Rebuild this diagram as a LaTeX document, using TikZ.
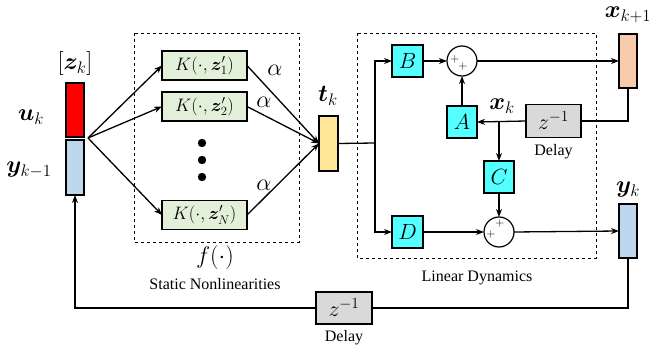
\RequirePackage{fix-cm}
\documentclass[tikz,border=0pt]{standalone}
\usepackage{amsmath}
\usepackage{bm}
\usepackage{fontspec}
\setmainfont{Liberation Serif}
\usetikzlibrary{arrows.meta}

\definecolor{vecred}{HTML}{FF0000}
\definecolor{veclblue}{HTML}{BDD7EE}
\definecolor{kgreen}{HTML}{E2F0D9}
\definecolor{tyellow}{HTML}{FFE699}
\definecolor{xpeach}{HTML}{F8CBAD}
\definecolor{mcyan}{HTML}{55FFFF}
\definecolor{dgrey}{HTML}{D9D9D9}

\tikzset{
  every node/.style={inner sep=0pt, outer sep=0pt},
  vecbox/.style={draw, line width=1.2pt, minimum width=18pt, minimum height=54pt},
  kbox/.style={draw, line width=1.2pt, fill=kgreen, minimum width=85pt, minimum height=29pt,
    font=\fontsize{18}{21}\selectfont},
  matbox/.style={draw, line width=1.2pt, fill=mcyan, minimum width=31pt, minimum height=32pt,
    font=\fontsize{22}{24}\selectfont},
  delaybox/.style={draw, line width=1.2pt, fill=dgrey, minimum width=55pt, minimum height=33pt,
    font=\fontsize{22}{24}\selectfont},
  sumnode/.style={draw, circle, line width=1.2pt, fill=white, minimum size=30pt},
  veclabel/.style={font=\fontsize{24}{26}\selectfont},
  caption/.style={font=\fontsize{16}{18}\selectfont},
  plus/.style={font=\fontsize{12}{14}\selectfont},
  region/.style={draw, dashed, line width=0.8pt},
  conn/.style={line width=1.3pt},
  arr/.style={conn, -{Stealth[length=8pt,width=6pt]}},
}

\begin{document}
\begin{tikzpicture}[x=1pt, y=-1pt]
\useasboundingbox (0,0) rectangle (662,350);

% dashed regions
\draw[region] (134,33) rectangle (299,242);
\draw[region] (357,33) rectangle (596,258);

% stacked input vector
\node[vecbox, fill=vecred] (uk) at (75,110) {};
\node[vecbox, fill=veclblue, minimum height=55pt] (yk1) at (75,167.5) {};
\node[veclabel] (zklab) at (75,64) {$[\bm{z}_k]$};
\node[veclabel] (uklab) at (31,117) {$\bm{u}_k$};
\node[veclabel] (yk1lab) at (29,170) {$\bm{y}_{k-1}$};
\coordinate (src) at (88,138);

% kernel evaluations
\node[kbox] (K1) at (204.5,65.5) {$K(\cdot,\bm{z}'_1)$};
\node[kbox] (K2) at (204.5,106.5) {$K(\cdot,\bm{z}'_2)$};
\node[kbox] (KN) at (204.5,215) {$K(\cdot,\bm{z}'_N)$};
\fill (202,143) circle (4.2pt) (202,160) circle (4.2pt) (202,177) circle (4.2pt);
\node[veclabel] (a1) at (275,70) {$\alpha$};
\node[veclabel] (a2) at (264,102) {$\alpha$};
\node[veclabel] (aN) at (264,185) {$\alpha$};
\node[veclabel] (flab) at (215,258) {$f(\cdot)$};
\node[caption] (snl) at (215,284) {Static Nonlinearities};

% feature vector
\node[vecbox, fill=tyellow, minimum width=19pt, minimum height=55pt] (tk) at (328.5,143.5) {};
\node[veclabel] (tklab) at (328,96) {$\bm{t}_k$};

% linear dynamics
\node[matbox] (B) at (407.5,61) {$B$};
\node[sumnode] (s1) at (462,61) {};
\node[plus] at (455,60) {$+$};
\node[plus] at (463,67) {$+$};
\node[matbox, minimum width=30pt] (A) at (462,122) {$A$};
\node[delaybox] (d1) at (553.5,121) {$z^{-1}$};
\node[caption] (d1lab) at (553.5,152) {Delay};
\node[veclabel] (xklab) at (502,106) {$\bm{x}_k$};
\coordinate (br) at (499,121);
\node[matbox, minimum width=30pt] (C) at (499,177) {$C$};
\node[sumnode] (s2) at (499,232) {};
\node[plus] at (500,224) {$+$};
\node[plus] at (491,234) {$+$};
\node[matbox] (D) at (407.5,232) {$D$};
\node[caption] (ldlab) at (477,278) {Linear Dynamics};

% state and output vectors
\node[vecbox, fill=xpeach] (xk1) at (628,61) {};
\node[veclabel] (xk1lab) at (628,15) {$\bm{x}_{k+1}$};
\node[vecbox, fill=veclblue] (yk) at (628,231) {};
\node[veclabel] (yklab) at (628,190) {$\bm{y}_k$};

% output delay
\node[delaybox, minimum width=56pt, minimum height=32pt] (d2) at (344,308) {$z^{-1}$};
\node[caption] (d2lab) at (344,338) {Delay};

% connectors: nonlinear part
\draw[arr] (src) -- (K1.west);
\draw[arr] (src) -- (K2.west);
\draw[arr] (src) -- (KN.west);
\draw[arr] (K1.east) -- (tk.west);
\draw[arr] (K2.east) -- (tk.west);
\draw[arr] (KN.east) -- (tk.west);

% connectors: linear part
\coordinate (j) at (375,143);
\draw[conn] (tk.east) -- (j);
\draw[arr] (j) |- (B.west);
\draw[arr] (j) |- (D.west);
\draw[arr] (B.east) -- (s1.west);
\draw[arr] (s1.east) -- (xk1.west);
\draw[conn] (xk1.south) |- (d1.east);
\draw[arr] (d1.west) -- (A.east);
\draw[arr] (A.north) -- (s1.south);
\draw[arr] (br) -- (C.north);
\draw[arr] (C.south) -- (s2.north);
\draw[arr] (D.east) -- (s2.west);
\draw[arr] (s2.east) -- (yk.west);

% feedback of the output
\coordinate (fr) at (628,308);
\coordinate (fl) at (75,308);
\draw[conn] (yk.south) -- (fr) -- (d2.east);
\draw[arr] (d2.west) -- (fl) -- (yk1.south);
\end{tikzpicture}
\end{document}
